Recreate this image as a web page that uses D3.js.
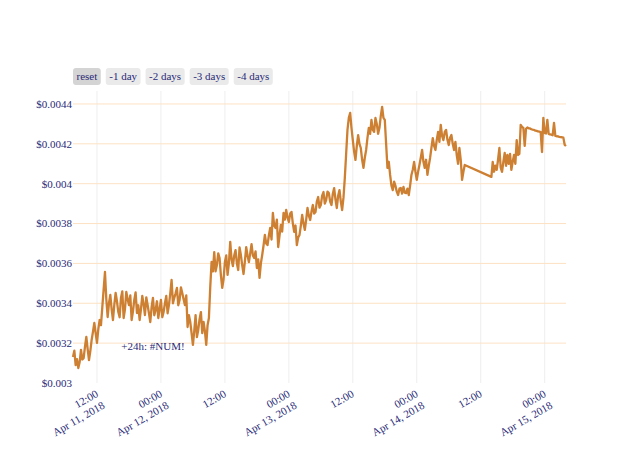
<!DOCTYPE html>
<html><head><meta charset="utf-8">
<script src="https://cdn.jsdelivr.net/npm/d3@7"></script>
<style>body{margin:0;background:#fff}svg{display:block}</style>
</head><body>
<svg id="chart" width="640" height="457"></svg>
<script>
// ---- data (prices in milli-dollars, i.e. 3.130 = $0.003130) ----
const seg1Start = Date.UTC(2018, 3, 11, 7, 30);
const seg2Start = Date.UTC(2018, 3, 14, 14, 0);
const stepMinutes = 15;
const seg1PricesMilli = [
3.130,3.162,3.090,3.120,3.075,3.105,3.166,3.118,3.125,3.182,3.231,3.170,3.115,3.160,3.216,3.258,3.301,3.250,3.201,3.270,
3.316,3.290,3.381,3.470,3.557,3.420,3.331,3.400,3.442,3.370,3.316,3.392,3.452,3.410,3.356,3.330,3.427,3.460,3.326,3.370,
3.457,3.420,3.391,3.440,3.316,3.360,3.417,3.455,3.351,3.390,3.316,3.370,3.437,3.395,3.341,3.430,3.391,3.350,3.306,3.380,
3.427,3.340,3.366,3.410,3.326,3.370,3.417,3.330,3.356,3.400,3.437,3.350,3.391,3.450,3.517,3.400,3.427,3.450,3.477,3.390,
3.417,3.480,3.452,3.420,3.391,3.440,3.281,3.340,3.306,3.250,3.191,3.260,3.341,3.230,3.266,3.320,3.356,3.250,3.306,3.260,
3.191,3.290,3.326,3.480,3.607,3.560,3.657,3.560,3.592,3.650,3.627,3.540,3.477,3.520,3.607,3.640,3.542,3.600,3.708,3.620,
3.587,3.640,3.667,3.600,3.567,3.680,3.642,3.590,3.547,3.610,3.682,3.640,3.607,3.650,3.697,3.640,3.627,3.660,3.577,3.620,
3.527,3.600,3.642,3.690,3.743,3.700,3.692,3.740,3.778,3.720,3.853,3.790,3.778,3.820,3.682,3.740,3.793,3.760,3.853,3.820,
3.868,3.830,3.808,3.850,3.858,3.800,3.758,3.790,3.692,3.730,3.743,3.790,3.843,3.800,3.768,3.820,3.878,3.840,3.818,3.860,
3.893,3.850,3.858,3.910,3.933,3.880,3.893,3.940,3.958,3.900,3.918,3.960,3.953,3.910,3.893,3.950,3.978,3.920,3.878,3.940,
3.968,3.910,3.868,3.930,4.029,4.150,4.270,4.330,4.355,4.280,4.219,4.160,4.119,4.190,4.244,4.200,4.179,4.120,4.079,4.130,
4.169,4.230,4.280,4.250,4.320,4.270,4.260,4.330,4.300,4.250,4.280,4.340,4.385,4.330,4.320,4.200,4.079,4.110,4.044,3.990,
3.968,4.010,3.989,3.960,3.943,3.975,3.978,3.950,3.984,3.955,3.953,3.975,3.943,3.990,4.044,4.070,4.109,4.060,4.019,4.060,
4.094,4.130,4.169,4.110,4.079,4.120,4.044,4.090,4.129,4.180,4.229,4.190,4.169,4.220,4.260,4.210,4.295,4.240,4.219,4.260,
4.270,4.220,4.194,4.230,4.244,4.200,4.169,4.210,4.144,4.100,4.179,4.120,4.019,4.060,4.094
];
const seg2PricesMilli = [
4.034,4.109,4.060,4.090,4.069,4.120,4.179,4.080,4.059,4.110,4.154,4.090,4.144,4.100,4.150,4.069,4.110,4.144,4.100,4.219,
4.144,4.150,4.295,4.285,4.280,4.190,4.275,4.282,4.278,4.277,4.273,4.271,4.270,4.266,4.265,4.262,4.261,4.259,4.159,4.330,
4.255,4.252,4.320,4.250,4.247,4.246,4.243,4.305,4.240,4.238,4.237,4.235,4.234,4.233,4.231,4.195,4.189
];
const yTicks = [0.003,0.0032,0.0034,0.0036,0.0038,0.004,0.0042,0.0044];
const yTickLabels = ["$0.003","$0.0032","$0.0034","$0.0036","$0.0038","$0.004","$0.0042","$0.0044"];
const xTicks = [Date.UTC(2018,3,11,12),Date.UTC(2018,3,12,0),Date.UTC(2018,3,12,12),Date.UTC(2018,3,13,0),
                Date.UTC(2018,3,13,12),Date.UTC(2018,3,14,0),Date.UTC(2018,3,14,12),Date.UTC(2018,3,15,0)];
const xTickLabels = [["12:00","Apr 11, 2018"],["00:00","Apr 12, 2018"],["12:00"],["00:00","Apr 13, 2018"],
                     ["12:00"],["00:00","Apr 14, 2018"],["12:00"],["00:00","Apr 15, 2018"]];
const buttons = ["reset","-1 day","-2 days","-3 days","-4 days"];
const annotationText = "+24h: #NUM!";
const annotationTime = Date.UTC(2018,3,11,22,30);
const annotationValue = 0.003183;

// ---- build points ----
const points = [];
seg1PricesMilli.forEach((v,i)=>points.push({t:new Date(seg1Start+i*stepMinutes*60000), v:v/1000}));
seg2PricesMilli.forEach((v,i)=>points.push({t:new Date(seg2Start+i*stepMinutes*60000), v:v/1000}));

const plotL=73, plotR=566, plotT=91, plotB=383;
const svg = d3.select("#chart");
const font = "'Liberation Serif','Times New Roman',serif";
const txtColor = "#2a2a78";

const x = d3.scaleUtc().domain(d3.extent(points,d=>d.t)).range([plotL,plotR]);
const y = d3.scaleLinear().domain([0.003, 0.004465]).range([plotB, plotT]);

// gridlines
svg.append("g").selectAll("line").data(xTicks).join("line")
  .attr("x1",d=>x(d)).attr("x2",d=>x(d)).attr("y1",plotT).attr("y2",plotB)
  .attr("stroke","#eeeeee").attr("stroke-width",1);
svg.append("g").selectAll("line").data(yTicks.slice(1)).join("line")
  .attr("x1",plotL).attr("x2",plotR).attr("y1",d=>y(d)).attr("y2",d=>y(d))
  .attr("stroke","#fde2c4").attr("stroke-width",1);

// y labels
svg.append("g").selectAll("text").data(yTicks).join("text")
  .attr("x",plotL-1).attr("y",d=>y(d)).attr("dy","0.35em")
  .attr("text-anchor","end").attr("font-family",font).attr("font-size",11).attr("fill",txtColor)
  .text((d,i)=>yTickLabels[i]);

// x labels
const xl = svg.append("g").selectAll("text").data(xTicks).join("text")
  .attr("transform",d=>`translate(${x(d)+2},${396}) rotate(-30)`)
  .attr("text-anchor","end").attr("font-family",font).attr("font-size",11).attr("fill",txtColor);
xl.each(function(d,i){
  const t=d3.select(this);
  xTickLabels[i].forEach((s,k)=>t.append("tspan").attr("x",0).attr("dy",k?"1.2em":0).text(s));
});

// line
svg.append("path").datum(points)
  .attr("d", d3.line().x(d=>x(d.t)).y(d=>y(d.v)))
  .attr("fill","none").attr("stroke","#cd7f32").attr("stroke-width",2.3).attr("stroke-linejoin","round");

// annotation
svg.append("text").attr("x",x(annotationTime)).attr("y",y(annotationValue)).attr("dy","0.35em")
  .attr("text-anchor","middle").attr("font-family",font).attr("font-size",11).attr("fill",txtColor)
  .text(annotationText);

// buttons
let bx = 73;
buttons.forEach((b,i)=>{
  const g = svg.append("g");
  const t = g.append("text").attr("x",0).attr("y",80).attr("font-family",font).attr("font-size",11)
    .attr("fill",txtColor).attr("text-anchor","middle").text(b);
  const w = t.node().getComputedTextLength()+7;
  t.attr("x",bx+w/2);
  g.insert("rect","text").attr("x",bx).attr("y",68).attr("width",w).attr("height",17).attr("rx",3)
    .attr("fill",i===0?"#d4d4d4":"#eaeaea");
  bx += w+5;
});
</script>
</body></html>
